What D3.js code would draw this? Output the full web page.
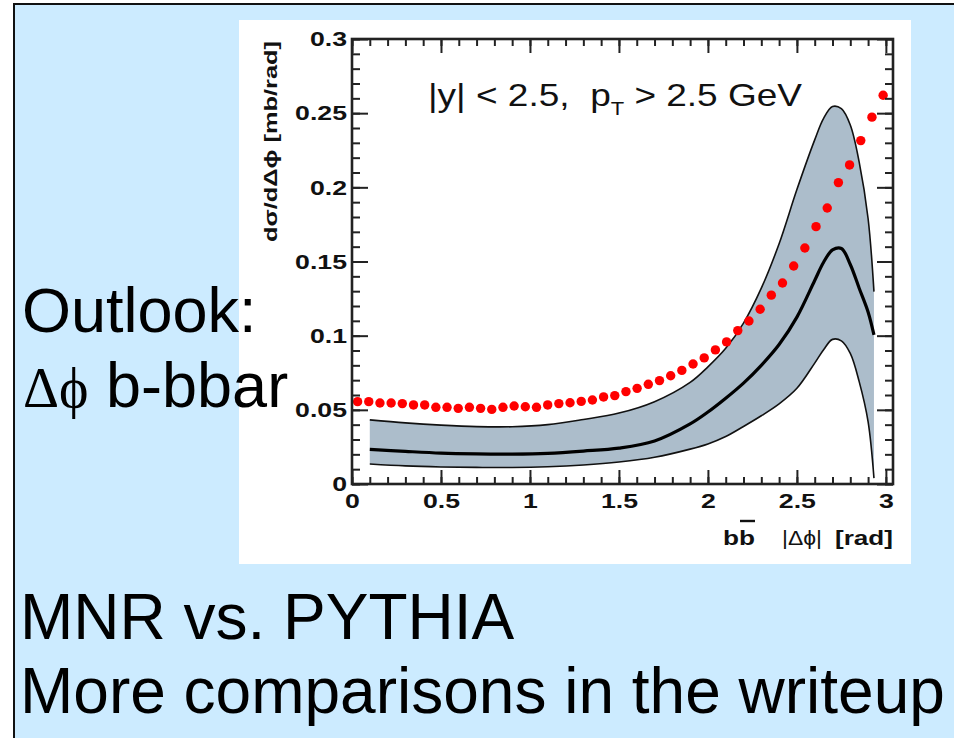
<!DOCTYPE html>
<html>
<head>
<meta charset="utf-8">
<script src="https://cdn.jsdelivr.net/npm/d3@7"></script>
<style>
  body { margin: 0; background: #fff; }
  svg { display: block; }
  text { font-family: "Liberation Sans", Arial, Helvetica, sans-serif; }
</style>
</head>
<body>
<svg id="slide" width="954" height="738"></svg>
<script>
// PYTHIA b-bbar azimuthal correlation: bin centres and cross section (mb/rad)
const dphiBins = [0.0314, 0.0942, 0.1571, 0.2199, 0.2827, 0.3456, 0.4084, 0.4712, 0.5341, 0.5969,
  0.6597, 0.7226, 0.7854, 0.8482, 0.9111, 0.9739, 1.0367, 1.0996, 1.1624, 1.2252,
  1.2881, 1.3509, 1.4137, 1.4765, 1.5394, 1.6022, 1.6650, 1.7279, 1.7907, 1.8535,
  1.9164, 1.9792, 2.0420, 2.1049, 2.1677, 2.2305, 2.2934, 2.3562, 2.4190, 2.4819,
  2.5447, 2.6075, 2.6704, 2.7332, 2.7960, 2.8588, 2.9217, 2.9845];
const pythiaXsec = [0.0555, 0.0555, 0.0546, 0.0546, 0.0542, 0.0533, 0.0533, 0.0517, 0.0517, 0.0510,
  0.0517, 0.0510, 0.0503, 0.0517, 0.0526, 0.0521, 0.0517, 0.0533, 0.0542, 0.0548,
  0.0557, 0.0566, 0.0587, 0.0596, 0.0623, 0.0645, 0.0672, 0.0697, 0.0730, 0.0766,
  0.0809, 0.0850, 0.0904, 0.0958, 0.1034, 0.1099, 0.1178, 0.1273, 0.1355, 0.1470,
  0.1591, 0.1735, 0.1861, 0.2032, 0.2151, 0.2315, 0.2473, 0.2621];

// MNR NLO prediction: central value and uncertainty band
const mnrDphi    = [0.1, 0.3, 0.5, 0.7, 0.9, 1.1, 1.3, 1.5, 1.7, 1.9, 2.0, 2.1, 2.2, 2.3, 2.4, 2.5, 2.6, 2.65, 2.7, 2.75, 2.8, 2.85, 2.9, 2.933];
const mnrUpper   = [0.0432, 0.0412, 0.0397, 0.0387, 0.0386, 0.0400, 0.0435, 0.0478, 0.0555, 0.0685, 0.0790, 0.0915, 0.1085, 0.1320, 0.1620, 0.1985, 0.2320, 0.2465, 0.2545, 0.2530, 0.2420, 0.2170, 0.1790, 0.1297];
const mnrCentral = [0.0234, 0.0220, 0.0208, 0.0203, 0.0202, 0.0207, 0.0222, 0.0242, 0.0290, 0.0405, 0.0485, 0.0578, 0.0680, 0.0800, 0.0940, 0.1125, 0.1372, 0.1495, 0.1578, 0.1588, 0.1480, 0.1320, 0.1160, 0.1005];
const mnrLower   = [0.0135, 0.0122, 0.0115, 0.0112, 0.0111, 0.0116, 0.0128, 0.0148, 0.0180, 0.0235, 0.0270, 0.0320, 0.0388, 0.0460, 0.0540, 0.0645, 0.0815, 0.0905, 0.0975, 0.0965, 0.0880, 0.0690, 0.0420, 0.0040];

// Axis ticks and labels
const xMajorTicks  = [0, 0.5, 1, 1.5, 2, 2.5, 3];
const xTickLabels  = ["0", "0.5", "1", "1.5", "2", "2.5", "3"];
const yMajorTicks  = [0, 0.05, 0.1, 0.15, 0.2, 0.25, 0.3];
const yTickLabels  = ["0", "0.05", "0.1", "0.15", "0.2", "0.25", "0.3"];

const svg = d3.select("#slide");

// widen glyphs horizontally to the wide Helvetica look of the figure
function stretch(sel, factor) {
  sel.each(function () {
    const w = this.getComputedTextLength();
    d3.select(this).attr("textLength", w * factor).attr("lengthAdjust", "spacingAndGlyphs");
  });
}
function fitTo(sel, width) {
  sel.attr("textLength", width).attr("lengthAdjust", "spacingAndGlyphs");
}

// slide background with its frame
svg.append("rect").attr("x", 14).attr("y", 4).attr("width", 950).attr("height", 740)
  .attr("fill", "#ccebff").attr("stroke", "#111").attr("stroke-width", 2);

// white figure panel
svg.append("rect").attr("x", 239).attr("y", 20).attr("width", 672).attr("height", 544).attr("fill", "#fff");

const plot = { left: 352, right: 893, top: 39, bottom: 484 };
const x = d3.scaleLinear().domain([0, 3.04]).range([plot.left, plot.right]);
const y = d3.scaleLinear().domain([0, 0.3]).range([plot.bottom, plot.top]);

const g = svg.append("g");

const band = mnrDphi.map((d, i) => ({ x: d, lo: mnrLower[i], c: mnrCentral[i], hi: mnrUpper[i] }));
const curve = d3.curveCatmullRom.alpha(0.5);

g.append("path").datum(band)
  .attr("d", d3.area().x(d => x(d.x)).y0(d => y(d.lo)).y1(d => y(d.hi)).curve(curve))
  .attr("fill", "#acbdcb");

const line = key => d3.line().x(d => x(d.x)).y(d => y(d[key])).curve(curve);
g.append("path").datum(band).attr("d", line("hi")).attr("fill", "none").attr("stroke", "#111").attr("stroke-width", 1.6);
g.append("path").datum(band).attr("d", line("lo")).attr("fill", "none").attr("stroke", "#111").attr("stroke-width", 1.6);
g.append("path").datum(band).attr("d", line("c")).attr("fill", "none").attr("stroke", "#000").attr("stroke-width", 3.2);

g.selectAll("circle.pythia").data(dphiBins).join("circle")
  .attr("class", "pythia")
  .attr("cx", d => x(d))
  .attr("cy", (d, i) => y(pythiaXsec[i]))
  .attr("r", 4.7)
  .attr("fill", "#ff0000");

// axes: inward ticks on all four sides
const minorX = d3.range(0, 3.001, 0.1);
const minorY = d3.range(0, 0.3001, 0.01);
const tickStyle = sel => {
  sel.select(".domain").remove();
  sel.selectAll("line").attr("stroke", "#222").attr("stroke-width", 2);
};
const labelStyle = sel => {
  const t = sel.selectAll("text")
    .attr("fill", "#111").style("font-size", "21px").style("font-weight", "bold");
  stretch(t, 1.27);
};

svg.append("g").attr("transform", `translate(0,${plot.bottom})`)
  .call(d3.axisBottom(x).tickValues(minorX).tickSize(-7).tickFormat(""))
  .call(tickStyle);
svg.append("g").attr("transform", `translate(0,${plot.bottom})`)
  .call(d3.axisBottom(x).tickValues(xMajorTicks).tickSize(-14).tickPadding(9)
    .tickFormat((d, i) => xTickLabels[i]))
  .call(tickStyle).call(labelStyle);

svg.append("g").attr("transform", `translate(0,${plot.top})`)
  .call(d3.axisTop(x).tickValues(minorX).tickSize(-7).tickFormat("")).call(tickStyle);
svg.append("g").attr("transform", `translate(0,${plot.top})`)
  .call(d3.axisTop(x).tickValues(xMajorTicks).tickSize(-14).tickFormat("")).call(tickStyle);

svg.append("g").attr("transform", `translate(${plot.left},0)`)
  .call(d3.axisLeft(y).tickValues(minorY).tickSize(-8).tickFormat("")).call(tickStyle);
svg.append("g").attr("transform", `translate(${plot.left},0)`)
  .call(d3.axisLeft(y).tickValues(yMajorTicks).tickSize(-16).tickPadding(5)
    .tickFormat((d, i) => yTickLabels[i]))
  .call(tickStyle).call(labelStyle);

svg.append("g").attr("transform", `translate(${plot.right},0)`)
  .call(d3.axisRight(y).tickValues(minorY).tickSize(-8).tickFormat("")).call(tickStyle);
svg.append("g").attr("transform", `translate(${plot.right},0)`)
  .call(d3.axisRight(y).tickValues(yMajorTicks).tickSize(-16).tickFormat("")).call(tickStyle);

// frame
svg.append("rect").attr("x", plot.left).attr("y", plot.top)
  .attr("width", plot.right - plot.left).attr("height", plot.bottom - plot.top)
  .attr("fill", "none").attr("stroke", "#222").attr("stroke-width", 2.6);

// y title
svg.append("text")
  .attr("transform", `translate(277,41) rotate(-90)`)
  .attr("text-anchor", "end")
  .style("font-size", "19px").style("font-weight", "bold")
  .attr("fill", "#111")
  .text("dσ/dΔϕ [mb/rad]")
  .call(fitTo, 201);

// x title
const bb = svg.append("text").attr("x", 723).attr("y", 545)
  .style("font-size", "21px").style("font-weight", "bold")
  .attr("fill", "#111").text("bb").call(fitTo, 32);
svg.append("text").attr("x", 782).attr("y", 545)
  .style("font-size", "21px").attr("fill", "#111").text("|Δϕ|").call(fitTo, 40);
svg.append("text").attr("x", 835).attr("y", 545)
  .style("font-size", "21px").style("font-weight", "bold")
  .attr("fill", "#111").text("[rad]").call(fitTo, 58);
const secondB = bb.node().getExtentOfChar(1);
svg.append("line")
  .attr("x1", secondB.x + 1).attr("x2", secondB.x + secondB.width)
  .attr("y1", 521).attr("y2", 521)
  .attr("stroke", "#111").attr("stroke-width", 2.4);

// kinematic selection
const sel = svg.append("text").attr("x", 428).attr("y", 106)
  .style("font-size", "32px").style("white-space", "pre")
  .attr("fill", "#111");
sel.append("tspan").text("|y| < 2.5,  p");
sel.append("tspan").attr("dy", 9).style("font-size", "19px").text("T");
sel.append("tspan").attr("dy", -9).text(" > 2.5 GeV");
fitTo(sel, 374);

// slide text
const slideText = (tx, ty, parts) => {
  const t = svg.append("text").attr("x", tx).attr("y", ty).style("white-space", "pre").attr("fill", "#000");
  parts.forEach(p => {
    const s = t.append("tspan").text(p.t).style("font-size", (p.size || 63) + "px");
    if (p.serif) s.style("font-family", "'Liberation Serif', 'Times New Roman', serif");
  });
};
slideText(22, 332, [{ t: "Outlook:" }]);
slideText(23, 407, [{ t: "Δϕ", serif: true, size: 56 }, { t: " b-bbar" }]);
slideText(20, 639, [{ t: "MNR vs. PYTHIA", size: 64 }]);
slideText(20, 713, [{ t: "More comparisons in the writeup", size: 64 }]);
</script>
</body>
</html>
